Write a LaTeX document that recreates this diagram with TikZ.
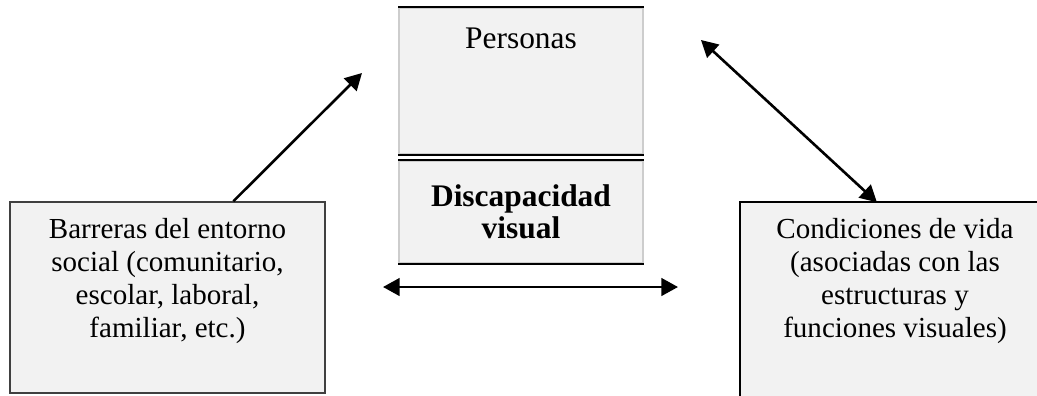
\documentclass[tikz,border=0pt]{standalone}
\usepackage{fontspec}
\setmainfont{Liberation Serif}
\usetikzlibrary{fit}
\usetikzlibrary{calc}
\usetikzlibrary{arrows.meta}
\definecolor{ColFill}{RGB}{242,242,242}
\definecolor{ColLine}{RGB}{64,64,64}
\definecolor{ColSide}{RGB}{205,205,205}
\tikzstyle{BoxGraph}=[rectangle,draw=ColLine,fill=ColFill,inner sep=0pt,line width=0.6pt]
\tikzstyle{BoxEdge}=[black,line width=0.8pt]
\tikzstyle{TextGraph}=[align=center,inner sep=0pt,font=\fontsize{12.2}{13.8}\selectfont]
\tikzstyle{TextMid}=[align=center,inner sep=0pt,font=\fontsize{13.2}{13.6}\selectfont]
\tikzstyle{EdgeGraph}=[black,line width=1.1pt,-{Triangle[length=7pt,width=7.4pt]}]
\tikzstyle{EdgeBoth}=[EdgeGraph,{Triangle[length=7pt,width=7.4pt]}-{Triangle[length=7pt,width=7.4pt]}]
\begin{document}
\begin{tikzpicture}[x=0.42pt,y=-0.42pt]
        \clip(0,0)rectangle(1037,395);
        % boxes
        \node[BoxGraph,draw=ColSide,fit={(399,8)(643,154)}](personas){};
        \node[BoxGraph,draw=ColSide,fit={(399,161)(643,263)}](discapacidad){};
        \node[BoxGraph,fit={(10,202)(325,393)}](barreras){};
        \node[BoxGraph,draw=none,fit={(741,203)(1049,410)}](condiciones){};
        \draw[BoxEdge](personas.north west)--(personas.north east);
        \draw[BoxEdge](personas.south west)--(personas.south east);
        \draw[BoxEdge](discapacidad.north west)--(discapacidad.north east);
        \draw[BoxEdge](discapacidad.south west)--(discapacidad.south east);
        \draw[BoxEdge](condiciones.south west)--(condiciones.north west)--(condiciones.north east);
        % texts
        \node[TextMid](personastxt)at(521,38){Personas};
        \node[TextMid,font=\fontsize{13.2}{13.6}\selectfont\bfseries](discapacidadtxt)at(521,212){Discapacidad\\visual};
        \node[TextGraph](barrerastxt)at(167.5,281){Barreras del entorno\\social (comunitario,\\escolar, laboral,\\familiar, etc.)};
        \node[TextGraph](condicionestxt)at(895,281){Condiciones de vida\\(asociadas con las\\estructuras y\\funciones visuales)};
        % arrows
        \coordinate(personasleft)at(362,73);
        \coordinate(personasright)at(701,40);
        \coordinate(midleft)at(383,287);
        \coordinate(midright)at(678,287);
        \draw[EdgeGraph]($(barreras.north west)!0.708!(barreras.north east)$)--(personasleft);
        \draw[EdgeBoth](personasright)--($(condiciones.north west)!0.4416!(condiciones.north east)$);
        \draw[EdgeBoth](midleft)--(midright);
    \end{tikzpicture}
\end{document}
